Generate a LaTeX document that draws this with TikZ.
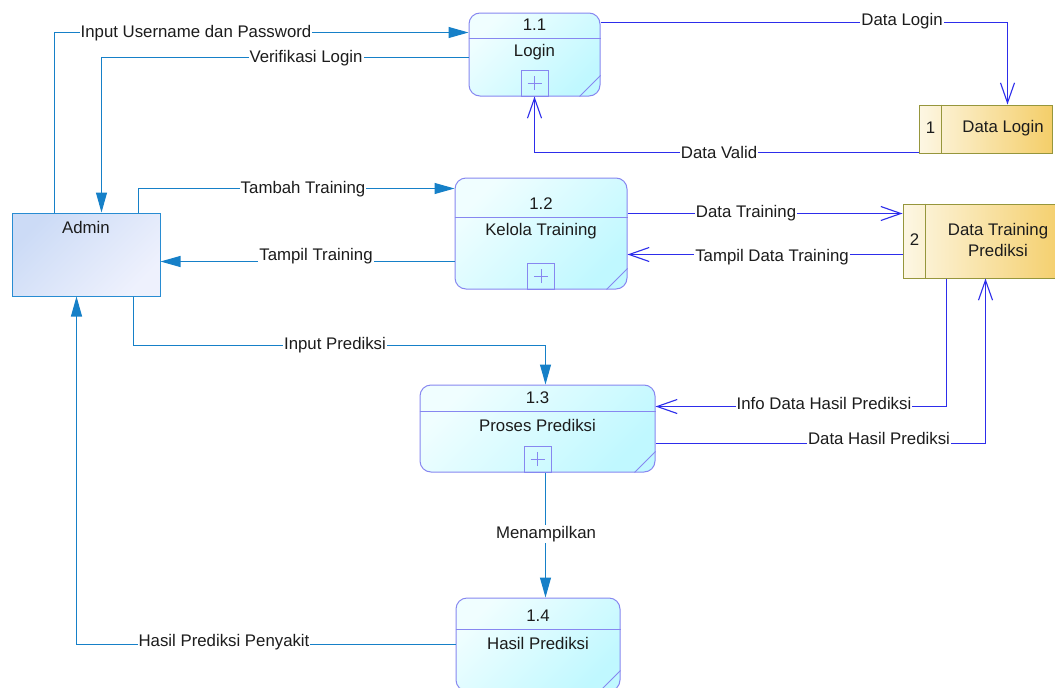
\documentclass[tikz,border=0pt]{standalone}
\usepackage{fontspec}
\setmainfont{Liberation Sans}
\usetikzlibrary{arrows.meta}

\definecolor{flowteal}{RGB}{22,128,200}
\definecolor{flowblue}{RGB}{45,45,235}
\definecolor{procline}{RGB}{135,135,240}
\definecolor{proctop}{RGB}{240,254,255}
\definecolor{procbot}{RGB}{192,248,255}
\definecolor{storeline}{RGB}{150,150,60}
\definecolor{storeleft}{RGB}{253,247,228}
\definecolor{storeright}{RGB}{244,206,105}
\definecolor{entline}{RGB}{40,140,210}
\definecolor{entdark}{RGB}{204,219,246}
\definecolor{entlight}{RGB}{238,241,253}
\definecolor{txt}{RGB}{28,28,28}

% process bubble: frame, divider, number, title and the folded corner
\newcommand{\dfdproc}[8]{%
  \node[proc, minimum width=#4pt, minimum height=#5pt] (#1) at (#2,#3) {};
  \draw[procline, line width=1pt] ([yshift=-#6pt]#1.north west) -- ([yshift=-#6pt]#1.north east);
  \node[plain] (#1-num) at ([yshift=-#6pt+14pt]#1.north) {#7};
  \node[plain] (#1-name) at ([yshift=-#6pt-14pt]#1.north) {#8};
  \draw[procline, line width=1pt] ([yshift=21pt]#1.south east) -- ([xshift=-21pt]#1.south east);
}
% sub-process marker at the bottom of a bubble
\newcommand{\dfdsub}[1]{%
  \node[subbox, anchor=south] (#1-sub) at (#1.south) {};
  \draw[procline, line width=0.8pt]
    ([xshift=-7pt]#1-sub.center) -- ([xshift=7pt]#1-sub.center)
    ([yshift=-7pt]#1-sub.center) -- ([yshift=7pt]#1-sub.center);
}

\begin{document}
\begin{tikzpicture}[x=1pt, y=-1pt,
  font=\fontsize{16.8}{20}\selectfont,
  plain/.style={text=txt, inner sep=0pt},
  proc/.style={draw=procline, line width=1pt, rounded corners=11pt,
    top color=proctop, bottom color=procbot, shading angle=45, inner sep=0pt},
  subbox/.style={draw=procline, line width=1pt, minimum width=27pt, minimum height=26pt, inner sep=0pt},
  entity/.style={draw=entline, line width=1pt, top color=entdark, bottom color=entlight,
    shading angle=45, inner sep=0pt},
  store/.style={draw=storeline, line width=1pt, left color=storeleft, right color=storeright, inner sep=0pt},
  tealflow/.style={draw=flowteal, line width=1.1pt, -{Triangle[length=20pt,width=11pt]}},
  blueflow/.style={draw=flowblue, line width=1.1pt, -{Straight Barb[length=20pt,width=14pt]}},
  lbl/.style={fill=white, text=txt, inner sep=1pt}]

\useasboundingbox (0,0) rectangle (1055,688);
\clip (0,0) rectangle (1055,688);
\fill[white] (0,0) rectangle (1055,688);

% external entity
\node[entity, minimum width=148pt, minimum height=83pt] (admin) at (86,254.5) {};
\node[plain] (admin-name) at (86,227) {Admin};

% processes
\dfdproc{p11}{534.5}{54.5}{131}{83}{26}{1.1}{Login}
\dfdsub{p11}
\dfdproc{p12}{541}{233.5}{172}{111}{40}{1.2}{Kelola Training}
\dfdsub{p12}
\dfdproc{p13}{537.5}{428.5}{235}{87}{27}{1.3}{Proses Prediksi}
\dfdsub{p13}
\dfdproc{p14}{538}{644.5}{164}{93}{32}{1.4}{Hasil Prediksi}

% data stores
\node[store, minimum width=133pt, minimum height=48pt] (ds1) at (985.5,129) {};
\draw[storeline, line width=1pt] ([xshift=23pt]ds1.north west) -- ([xshift=23pt]ds1.south west);
\node[plain] (ds1-id) at (930.5,128) {1};
\node[plain] (ds1-name) at (1003,128) {Data Login};

\node[store, minimum width=162pt, minimum height=74pt] (ds2) at (984,241) {};
\draw[storeline, line width=1pt] ([xshift=23pt]ds2.north west) -- ([xshift=23pt]ds2.south west);
\node[plain] (ds2-id) at (914.5,240) {2};
\node[plain, align=center, font=\fontsize{16.8}{20.5}\selectfont] (ds2-name) at (998,240) {Data Training\\Prediksi};

% flows between Admin and the processes
\draw[tealflow] ([xshift=43pt]admin.north west) |- ([yshift=-20pt]p11.north west);
\draw[tealflow] ([yshift=-45pt]p11.north west) -| ([xshift=90pt]admin.north west);
\draw[tealflow] ([xshift=127pt]admin.north west) |- ([yshift=-11pt]p12.north west);
\draw[tealflow] ([yshift=28pt]p12.south west) -- ([yshift=35pt]admin.south east);
\draw[tealflow] ([xshift=122pt]admin.south west) -- ++(0,49) -| ([xshift=8pt]p13.north);
\draw[tealflow] ([xshift=8pt]p13.south) -- ([xshift=8pt]p13.south |- p14.north);
\draw[tealflow] ([yshift=-47pt]p14.north west) -| ([xshift=65pt]admin.south west);

% flows between processes and data stores
\draw[blueflow] ([yshift=-10pt]p11.north east) -| ([xshift=89pt]ds1.north west);
\draw[blueflow] ([yshift=1pt]ds1.south west) -| (p11.south);
\draw[blueflow] ([yshift=-36pt]p12.north east) -- ([yshift=-10pt]ds2.north west);
\draw[blueflow] ([yshift=-51pt]ds2.north west) -- ([yshift=-77pt]p12.north east);
\draw[blueflow] ([xshift=44pt]ds2.south west) |- ([yshift=-22pt]p13.north east);
\draw[blueflow] ([yshift=29pt]p13.south east) -| ([xshift=83pt]ds2.south west);

% flow labels
\node[lbl] (l1) at (196,33) {Input Username dan Password};
\node[lbl] (l2) at (306,58) {Verifikasi Login};
\node[lbl] (l3) at (303,189) {Tambah Training};
\node[lbl] (l4) at (316,256) {Tampil Training};
\node[lbl] (l5) at (335,345) {Input Prediksi};
\node[lbl] (l6) at (546,534) {Menampilkan};
\node[lbl] (l7) at (224,642) {Hasil Prediksi Penyakit};
\node[lbl] (l8) at (902,21) {Data Login};
\node[lbl] (l9) at (719,152) {Data Valid};
\node[lbl] (l10) at (746,213) {Data Training};
\node[lbl] (l11) at (772,257) {Tampil Data Training};
\node[lbl] (l12) at (824,403) {Info Data Hasil Prediksi};
\node[lbl] (l13) at (879,438) {Data Hasil Prediksi};

\end{tikzpicture}
\end{document}
